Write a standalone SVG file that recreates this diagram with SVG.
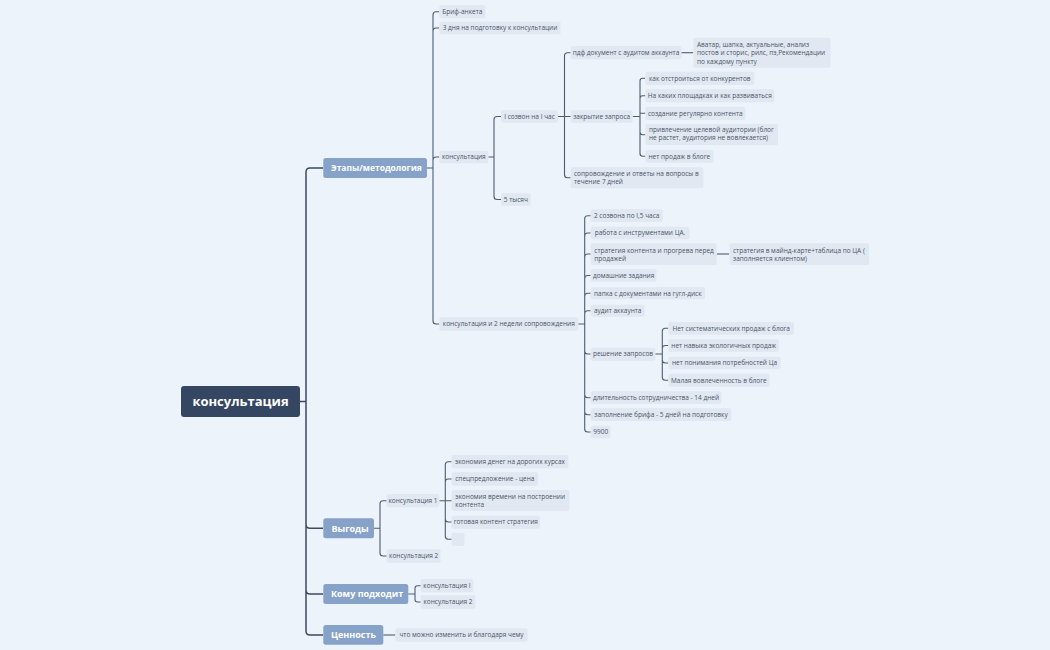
<svg xmlns="http://www.w3.org/2000/svg" width="1050" height="650" viewBox="0 0 1050 650">
<style>
.leaf rect{fill:#e1e8f1}
.leaf text{font-family:"Open Sans","Liberation Sans",sans-serif;font-size:6.5px;fill:#4b5566}
.mid{text-anchor:middle}
.main rect{fill:#87a2c9}
.main text{font-family:"Open Sans","Liberation Sans",sans-serif;font-weight:bold;font-size:9px;fill:#ffffff}
.root rect{fill:#344662}
.root text{font-family:"Open Sans","Liberation Sans",sans-serif;font-weight:bold;font-size:13px;fill:#ffffff;text-anchor:middle}
.c1{fill:none;stroke:#3d4b60;stroke-width:1.5}
.c2{fill:none;stroke:#4f5d72;stroke-width:1.1}
</style>
<rect width="1050" height="650" fill="#edf3fa"/>
<g id="connectors">
<path class="c1" d="M300,401.5 H306 M306,401.5 V172 Q306,168 310,168 H323 M306,401.5 V524.3 Q306,528.3 310,528.3 H323 M306,401.5 V590 Q306,594 310,594 H323 M306,401.5 V631 Q306,635 310,635 H323"/>
<path class="c2" d="M427,168 H433 M433,168 V14.7 Q433,11.7 436,11.7 H439.3 M433,168 V31 Q433,28 436,28 H439.3 M433,168 V160 Q433,157 436,157 H439.3 M433,168 V321 Q433,324 436,324 H439.3"/>
<path class="c2" d="M488.3,157 H494 M494,157 V119.5 Q494,116.5 497,116.5 H501 M494,157 V196.5 Q494,199.5 497,199.5 H501"/>
<path class="c2" d="M558,116.5 H570.7 M564.5,116.5 V55.7 Q564.5,52.7 567.5,52.7 H570.7 M564.5,116.5 V174.8 Q564.5,177.8 567.5,177.8 H570.7"/>
<path class="c2" d="M681.3,52.7 H693.3"/>
<path class="c2" d="M632.7,116.5 H640 M640,116.5 V81 Q640,78.3 642.7,78.3 H645.3 M640,116.5 V98.5 Q640,95.8 642.7,95.8 H645.3 M640,116.5 V113.3 H645.3 M640,116.5 V132 Q640,134.7 642.7,134.7 H645.3 M640,116.5 V153.6 Q640,156.3 642.7,156.3 H645.3"/>
<path class="c2" d="M578.3,324 H584.7 M584.7,324 V218.7 Q584.7,215.7 587.7,215.7 H590.7 M584.7,324 V236 Q584.7,233 587.7,233 H590.7 M584.7,324 V257 Q584.7,254 587.7,254 H590.7 M584.7,324 V278.5 Q584.7,275.5 587.7,275.5 H590.7 M584.7,324 V296.3 Q584.7,293.3 587.7,293.3 H590.7 M584.7,324 V313.7 Q584.7,310.7 587.7,310.7 H590.7 M584.7,324 V351 Q584.7,354 587.7,354 H590.7 M584.7,324 V394.7 Q584.7,397.7 587.7,397.7 H590.7 M584.7,324 V411.7 Q584.7,414.7 587.7,414.7 H590.7 M584.7,324 V429 Q584.7,432 587.7,432 H590.7"/>
<path class="c2" d="M716.7,254 H729.3"/>
<path class="c2" d="M655.3,354 H662.3 M662.3,354 V331.3 Q662.3,328.3 665.3,328.3 H668.3 M662.3,354 V348.5 Q662.3,345.5 665.3,345.5 H668.3 M662.3,354 V360 Q662.3,363 665.3,363 H668.3 M662.3,354 V377.2 Q662.3,380.2 665.3,380.2 H668.3"/>
<path class="c2" d="M374,528.3 H380 M380,528.3 V503.7 Q380,500.7 383,500.7 H386.7 M380,528.3 V553 Q380,556 383,556 H386.7"/>
<path class="c2" d="M439.3,500.7 H451.7 M445.3,500.7 V464.7 Q445.3,461.7 448.3,461.7 H451.7 M445.3,500.7 V482 Q445.3,479 448.3,479 H451.7 M445.3,500.7 V519 Q445.3,522 448.3,522 H451.7 M445.3,500.7 V536.3 Q445.3,539.3 448.3,539.3 H451.7"/>
<path class="c2" d="M408.3,594 H415 M415,594 V588.2 Q415,585.7 417.5,585.7 H420.7 M415,594 V599.5 Q415,602 417.5,602 H420.7"/>
<path class="c2" d="M383.3,635 H395.3"/>
</g>
<g id="root" class="root"><rect x="181" y="386" width="119" height="31" rx="3"/><text x="240.5" y="406">консультация</text></g>
<g id="etapy" class="main"><rect x="323.3" y="158" width="103.7" height="20" rx="2.5"/><text x="331" y="171" style="font-size:8.5px">Этапы/методология</text></g>
<g id="vygody" class="main"><rect x="323.3" y="518.3" width="50.7" height="20" rx="2.5"/><text x="331.5" y="531.5">Выгоды</text></g>
<g id="komu" class="main"><rect x="323.3" y="584" width="85" height="20" rx="2.5"/><text x="331" y="597.2">Кому подходит</text></g>
<g id="cennost" class="main"><rect x="323.3" y="625" width="60" height="19.7" rx="2.5"/><text x="331" y="638.2">Ценность</text></g>

<g id="n-brif" class="leaf"><rect x="439.3" y="5" width="46" height="13.3" rx="2"/><text class="mid" x="462.3" y="14">Бриф-анкета</text></g>
<g id="n-3dnya" class="leaf"><rect x="439.3" y="21.7" width="121.4" height="12.6" rx="2"/><text class="mid" x="500" y="30.3">3 дня на подготовку к консультации</text></g>
<g id="n-kons" class="leaf"><rect x="439.3" y="150.7" width="49" height="12.6" rx="2"/><text class="mid" x="463.8" y="159.3">консультация</text></g>
<g id="n-kons2" class="leaf"><rect x="439.3" y="317.3" width="139" height="13.4" rx="2"/><text class="mid" x="508.8" y="326.3">консультация и 2 недели сопровождения</text></g>
<g id="n-sozvon" class="leaf"><rect x="501" y="110.2" width="57" height="12.6" rx="2"/><text class="mid" x="529.5" y="118.8">I созвон на I час</text></g>
<g id="n-5tys" class="leaf"><rect x="501" y="193.3" width="29.7" height="12.4" rx="2"/><text class="mid" x="515.8" y="201.8">5 тысяч</text></g>
<g id="n-pdf" class="leaf"><rect x="570.7" y="46" width="110.6" height="13.3" rx="2"/><text class="mid" x="626" y="55">пдф документ с аудитом аккаунта</text></g>
<g id="n-avatar" class="leaf"><rect x="693.3" y="37.7" width="137.4" height="30" rx="2"/><text x="697" y="46.6">Аватар, шапка, актуальные, анализ</text><text x="697" y="55">постов и сторис, рилс, пэ,Рекомендации</text><text x="697" y="63.6">по каждому пункту</text></g>
<g id="n-zakr" class="leaf"><rect x="570.7" y="110.2" width="62" height="12.6" rx="2"/><text class="mid" x="601.7" y="118.8">закрытие запроса</text></g>
<g id="n-soprov" class="leaf"><rect x="570.7" y="167.3" width="132.6" height="21" rx="2"/><text x="574" y="175.6">сопровождение и ответы на вопросы в</text><text x="574" y="184">течение 7 дней</text></g>
<g id="n-otstr" class="leaf"><rect x="645.3" y="71.7" width="109" height="13.3" rx="2"/><text class="mid" x="699.8" y="80.6">как отстроиться от конкурентов</text></g>
<g id="n-plosh" class="leaf"><rect x="645.3" y="89.3" width="129" height="13" rx="2"/><text class="mid" x="709.8" y="98.1">На каких площадках и как развиваться</text></g>
<g id="n-sozd" class="leaf"><rect x="645.3" y="106.7" width="100" height="13.3" rx="2"/><text class="mid" x="695.3" y="115.6">создание регулярно контента</text></g>
<g id="n-privl" class="leaf"><rect x="645.3" y="124" width="132.7" height="21.3" rx="2"/><text x="649" y="132.3">привлечение целевой аудитории (блог</text><text x="649" y="140.3">не растет, аудитория не вовлекается)</text></g>
<g id="n-netprod" class="leaf"><rect x="645.3" y="150" width="68" height="12.7" rx="2"/><text class="mid" x="679.3" y="158.6">нет продаж в блоге</text></g>
<g id="n-2sozv" class="leaf"><rect x="590.7" y="209.3" width="72" height="12.7" rx="2"/><text class="mid" x="626.7" y="218">2 созвона по I,5 часа</text></g>
<g id="n-rabota" class="leaf"><rect x="590.7" y="226.7" width="98.6" height="12.6" rx="2"/><text class="mid" x="640" y="235.3">работа с инструментами ЦА.</text></g>
<g id="n-strat" class="leaf"><rect x="590.7" y="243.3" width="126" height="21.7" rx="2"/><text x="594.3" y="253">стратегия контента и прогрева перед</text><text x="594.3" y="261">продажей</text></g>
<g id="n-strat2" class="leaf"><rect x="729.3" y="243.3" width="139.7" height="21.7" rx="2"/><text x="733" y="253">стратегия в майнд-карте+таблица по ЦА (</text><text x="733" y="261">заполняется клиентом)</text></g>
<g id="n-dom" class="leaf"><rect x="590.7" y="269.3" width="66" height="12.4" rx="2"/><text class="mid" x="623.7" y="277.8">домашние задания</text></g>
<g id="n-papka" class="leaf"><rect x="590.7" y="287.3" width="114.3" height="12" rx="2"/><text class="mid" x="647.8" y="295.6">папка с документами на гугл-диск</text></g>
<g id="n-audit" class="leaf"><rect x="590.7" y="304.7" width="54" height="12" rx="2"/><text class="mid" x="617.7" y="313">аудит аккаунта</text></g>
<g id="n-resh" class="leaf"><rect x="590.7" y="347.7" width="64.6" height="13" rx="2"/><text class="mid" x="623" y="356.3">решение запросов</text></g>
<g id="n-sist" class="leaf"><rect x="668.3" y="322" width="125.7" height="12.7" rx="2"/><text class="mid" x="731.2" y="330.6">Нет систематических продаж с блога</text></g>
<g id="n-navyk" class="leaf"><rect x="668.3" y="339.3" width="110.7" height="12.4" rx="2"/><text class="mid" x="723.7" y="347.8">нет навыка экологичных продаж</text></g>
<g id="n-ponim" class="leaf"><rect x="668.3" y="356.7" width="112.4" height="12.6" rx="2"/><text class="mid" x="724.5" y="365.3">нет понимания потребностей Ца</text></g>
<g id="n-malaya" class="leaf"><rect x="668.3" y="373.7" width="101" height="13" rx="2"/><text class="mid" x="718.8" y="382.5">Малая вовлеченность в блоге</text></g>
<g id="n-dlit" class="leaf"><rect x="590.7" y="391.3" width="130.6" height="12.7" rx="2"/><text class="mid" x="656" y="400">длительность сотрудничества - 14 дней</text></g>
<g id="n-zapoln" class="leaf"><rect x="590.7" y="408.3" width="140.6" height="12.7" rx="2"/><text class="mid" x="661" y="417">заполнение брифа - 5 дней на подготовку</text></g>
<g id="n-9900" class="leaf"><rect x="590.7" y="425.7" width="20" height="12.6" rx="2"/><text class="mid" x="600.7" y="434.3">9900</text></g>
<g id="n-v-k1" class="leaf"><rect x="386.7" y="494" width="52.6" height="13.3" rx="2"/><text class="mid" x="413" y="503">консультация 1</text></g>
<g id="n-v-k2" class="leaf"><rect x="386.7" y="549.3" width="54" height="13.4" rx="2"/><text class="mid" x="413.7" y="558.3">консультация 2</text></g>
<g id="n-ekon" class="leaf"><rect x="451.7" y="455" width="116.6" height="13.3" rx="2"/><text class="mid" x="510" y="464">экономия денег на дорогих курсах</text></g>
<g id="n-spec" class="leaf"><rect x="451.7" y="472.3" width="86.3" height="13.4" rx="2"/><text class="mid" x="494.8" y="481.3">спецпредложение - цена</text></g>
<g id="n-ekonvr" class="leaf"><rect x="451.7" y="490" width="117.6" height="21" rx="2"/><text x="455.3" y="499">экономия времени на построении</text><text x="455.3" y="507">контента</text></g>
<g id="n-gotov" class="leaf"><rect x="451.7" y="515.7" width="88.3" height="13" rx="2"/><text class="mid" x="495.8" y="524.3">готовая контент стратегия</text></g>
<g id="n-empty" class="leaf"><rect x="451.7" y="532.7" width="13" height="13.3" rx="2"/></g>
<g id="n-k-k1" class="leaf"><rect x="420.7" y="579" width="52.6" height="13.3" rx="2"/><text class="mid" x="447" y="588">консультация I</text></g>
<g id="n-k-k2" class="leaf"><rect x="420.7" y="595.3" width="54.6" height="13.4" rx="2"/><text class="mid" x="448" y="604.3">консультация 2</text></g>
<g id="n-chto" class="leaf"><rect x="395.3" y="628.3" width="132.4" height="13.4" rx="2"/><text class="mid" x="461.5" y="637.3">что можно изменить и благодаря чему</text></g>
</svg>
